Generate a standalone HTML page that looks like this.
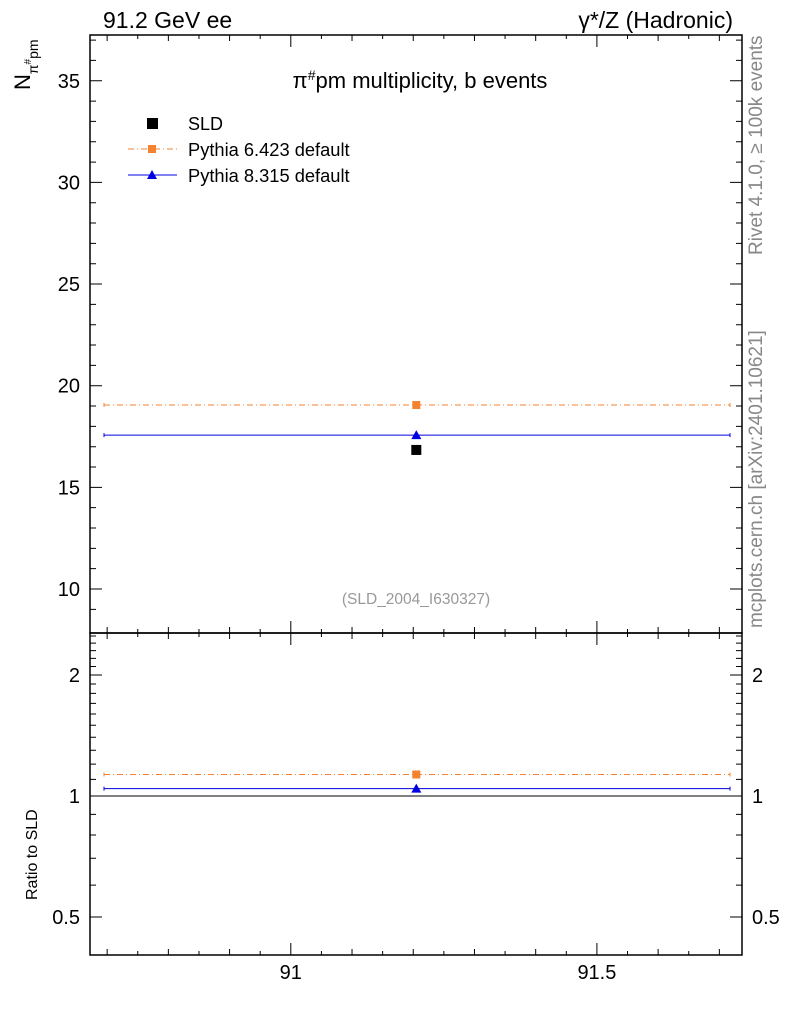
<!DOCTYPE html>
<html><head><meta charset="utf-8"><style>
body{margin:0;background:#fff;}
svg text{font-family:"Liberation Sans","DejaVu Sans",sans-serif;}
</style></head><body>
<svg id="c" width="786" height="1024" xmlns="http://www.w3.org/2000/svg">
<text x="103" y="28" font-size="23">91.2 GeV ee</text>
<text x="733" y="28" font-size="23" text-anchor="end">γ*/Z (Hadronic)</text>
<text x="420" y="88" font-size="22" text-anchor="middle">π<tspan baseline-shift="super" font-size="14">#</tspan>pm multiplicity, b events</text>
<text x="416" y="604" font-size="15.5" fill="#999" text-anchor="middle">(SLD_2004_I630327)</text>
<text transform="translate(762,255) rotate(-90)" font-size="19" fill="#888">Rivet 4.1.0, ≥ 100k events</text>
<text transform="translate(762,628) rotate(-90)" font-size="19" fill="#888">mcplots.cern.ch [arXiv:2401.10621]</text>
<text transform="translate(30,90) rotate(-90)" font-size="22">N<tspan font-size="14" dy="8">π</tspan><tspan font-size="10" dy="-7">#</tspan><tspan font-size="14" dy="7">pm</tspan></text>
<text transform="translate(37,900) rotate(-90)" font-size="16">Ratio to SLD</text>
<g id="frames"></g>
<g id="marks"></g>
<g>
<rect x="147" y="118" width="11" height="11" fill="#000"/>
<text x="188" y="130" font-size="18">SLD</text>
<line x1="128" y1="149" x2="177" y2="149" stroke="#f58231" stroke-dasharray="6,3,1,3"/>
<rect x="148" y="145" width="8" height="8" fill="#f58231"/>
<text x="188" y="156" font-size="18.3">Pythia 6.423 default</text>
<line x1="128" y1="175" x2="177" y2="175" stroke="#0000e0"/>
<path d="M152 170 L157 179 L147 179 Z" fill="#0000e0"/>
<text x="188" y="182" font-size="18.3">Pythia 8.315 default</text>
</g>
</svg>
<script>
const xEdges=[90.672,91.737];
const xPoint=[91.205];
const sldValues=[16.84];
const py6Values=[19.05];
const py8Values=[17.57];
const mainTicks=[10,15,20,25,30,35];
const ratioTicks=[0.5,1,2];
const xTicks=[91,91.5];
const L=90,R=742,T=35,M=633,B=955;
const X=v=>L+(v-90.672)*(R-L)/(91.737-90.672);
const Y=v=>589-(v-10)*20.33;
const YR=v=>796-121*Math.log2(v);
const NS="http://www.w3.org/2000/svg";
function mk(tag,at,parent){const e=document.createElementNS(NS,tag);for(const k in at)e.setAttribute(k,at[k]);document.getElementById(parent).appendChild(e);return e;}
let f;
f=mk('rect',{x:L,y:T,width:R-L,height:M-T,fill:'none',stroke:'#000','stroke-width':1.5},'frames');


f=mk('rect',{x:L,y:M,width:R-L,height:B-M,fill:'none',stroke:'#000','stroke-width':1.5},'frames');


for(let v=9;v<=37;v++){const y=Y(v);if(y<T||y>M)continue;const maj=v%5===0;const len=maj?12:6;
 let t=mk('path',{d:`M${L} ${y}h${len}M${R} ${y}h${-len}`,stroke:'#000'},'frames');
 
 }
mainTicks.forEach(v=>{let t=mk('text',{x:L-10,y:Y(v)+7,'font-size':20,'text-anchor':'end'},'frames');t.textContent=v;
 
 });
[0.4,0.5,0.6,0.7,0.8,0.9,1,1.1,1.2,1.3,1.4,1.5,1.6,1.7,1.8,1.9,2,2.1,2.2,2.3,2.4,2.5].forEach(v=>{const y=YR(v);if(y<M||y>B)return;const maj=ratioTicks.includes(v);const len=maj?12:6;
 let t=mk('path',{d:`M${L} ${y}h${len}M${R} ${y}h${-len}`,stroke:'#000'},'frames');
 
 });
ratioTicks.forEach(v=>{[[L-10,'end'],[R+10,'start']].forEach(([x,a])=>{let t=mk('text',{x:x,y:YR(v)+7,'font-size':20,'text-anchor':a},'frames');t.textContent=v;
 
 });});
let ln=mk('line',{x1:L,x2:R,y1:YR(1),y2:YR(1),stroke:'#000'},'frames');


for(let i=1813;i<=1835;i++){const v=i/20;const x=X(v);if(x<L||x>R)continue;const maj=i%10===0;const len=maj?12:(i%2===0?6:4);
 [[T,1],[M,-1],[M,1],[B,-1]].forEach(([y0,d])=>{let t=mk('path',{d:`M${x} ${y0}v${d*len}`,stroke:'#000'},'frames');
 
 });}
xTicks.forEach(v=>{let t=mk('text',{x:X(v),y:979,'font-size':20,'text-anchor':'middle'},'frames');t.textContent=v;
 
 });
function series(vals,ref,color,dash,shape,name){
 vals.forEach((v,i)=>{
  [[Y(v),'main'],[YR(v/ref[i]),'ratio']].forEach(([y,p])=>{
   const x1=X(xEdges[0])+14,x2=X(xEdges[1])-12;
   let l=mk('line',{x1:x1,x2:x2,y1:y,y2:y,stroke:color,'stroke-dasharray':dash},'marks');
   
   
   let e=mk('path',{d:`M${x1} ${y-2}v4M${x2} ${y-2}v4`,stroke:color},'marks');
   
   
   const x=X(xPoint[i]);
   let m=shape==='sq'?mk('rect',{x:x-4,y:y-4,width:8,height:8,fill:color},'marks'):mk('path',{d:`M${x} ${y-5}L${x+5} ${y+4}L${x-5} ${y+4}Z`,fill:color},'marks');
   
   
  });
 });
}
series(py6Values,sldValues,'#f58231','6,3,1,3','sq','pythia6');
series(py8Values,sldValues,'#0000e0','','tri','pythia8');
sldValues.forEach((v,i)=>{let m=mk('rect',{x:X(xPoint[i])-5,y:Y(v)-5,width:10,height:10,fill:'#000'},'marks');
 
 });
</script>
</body></html>
